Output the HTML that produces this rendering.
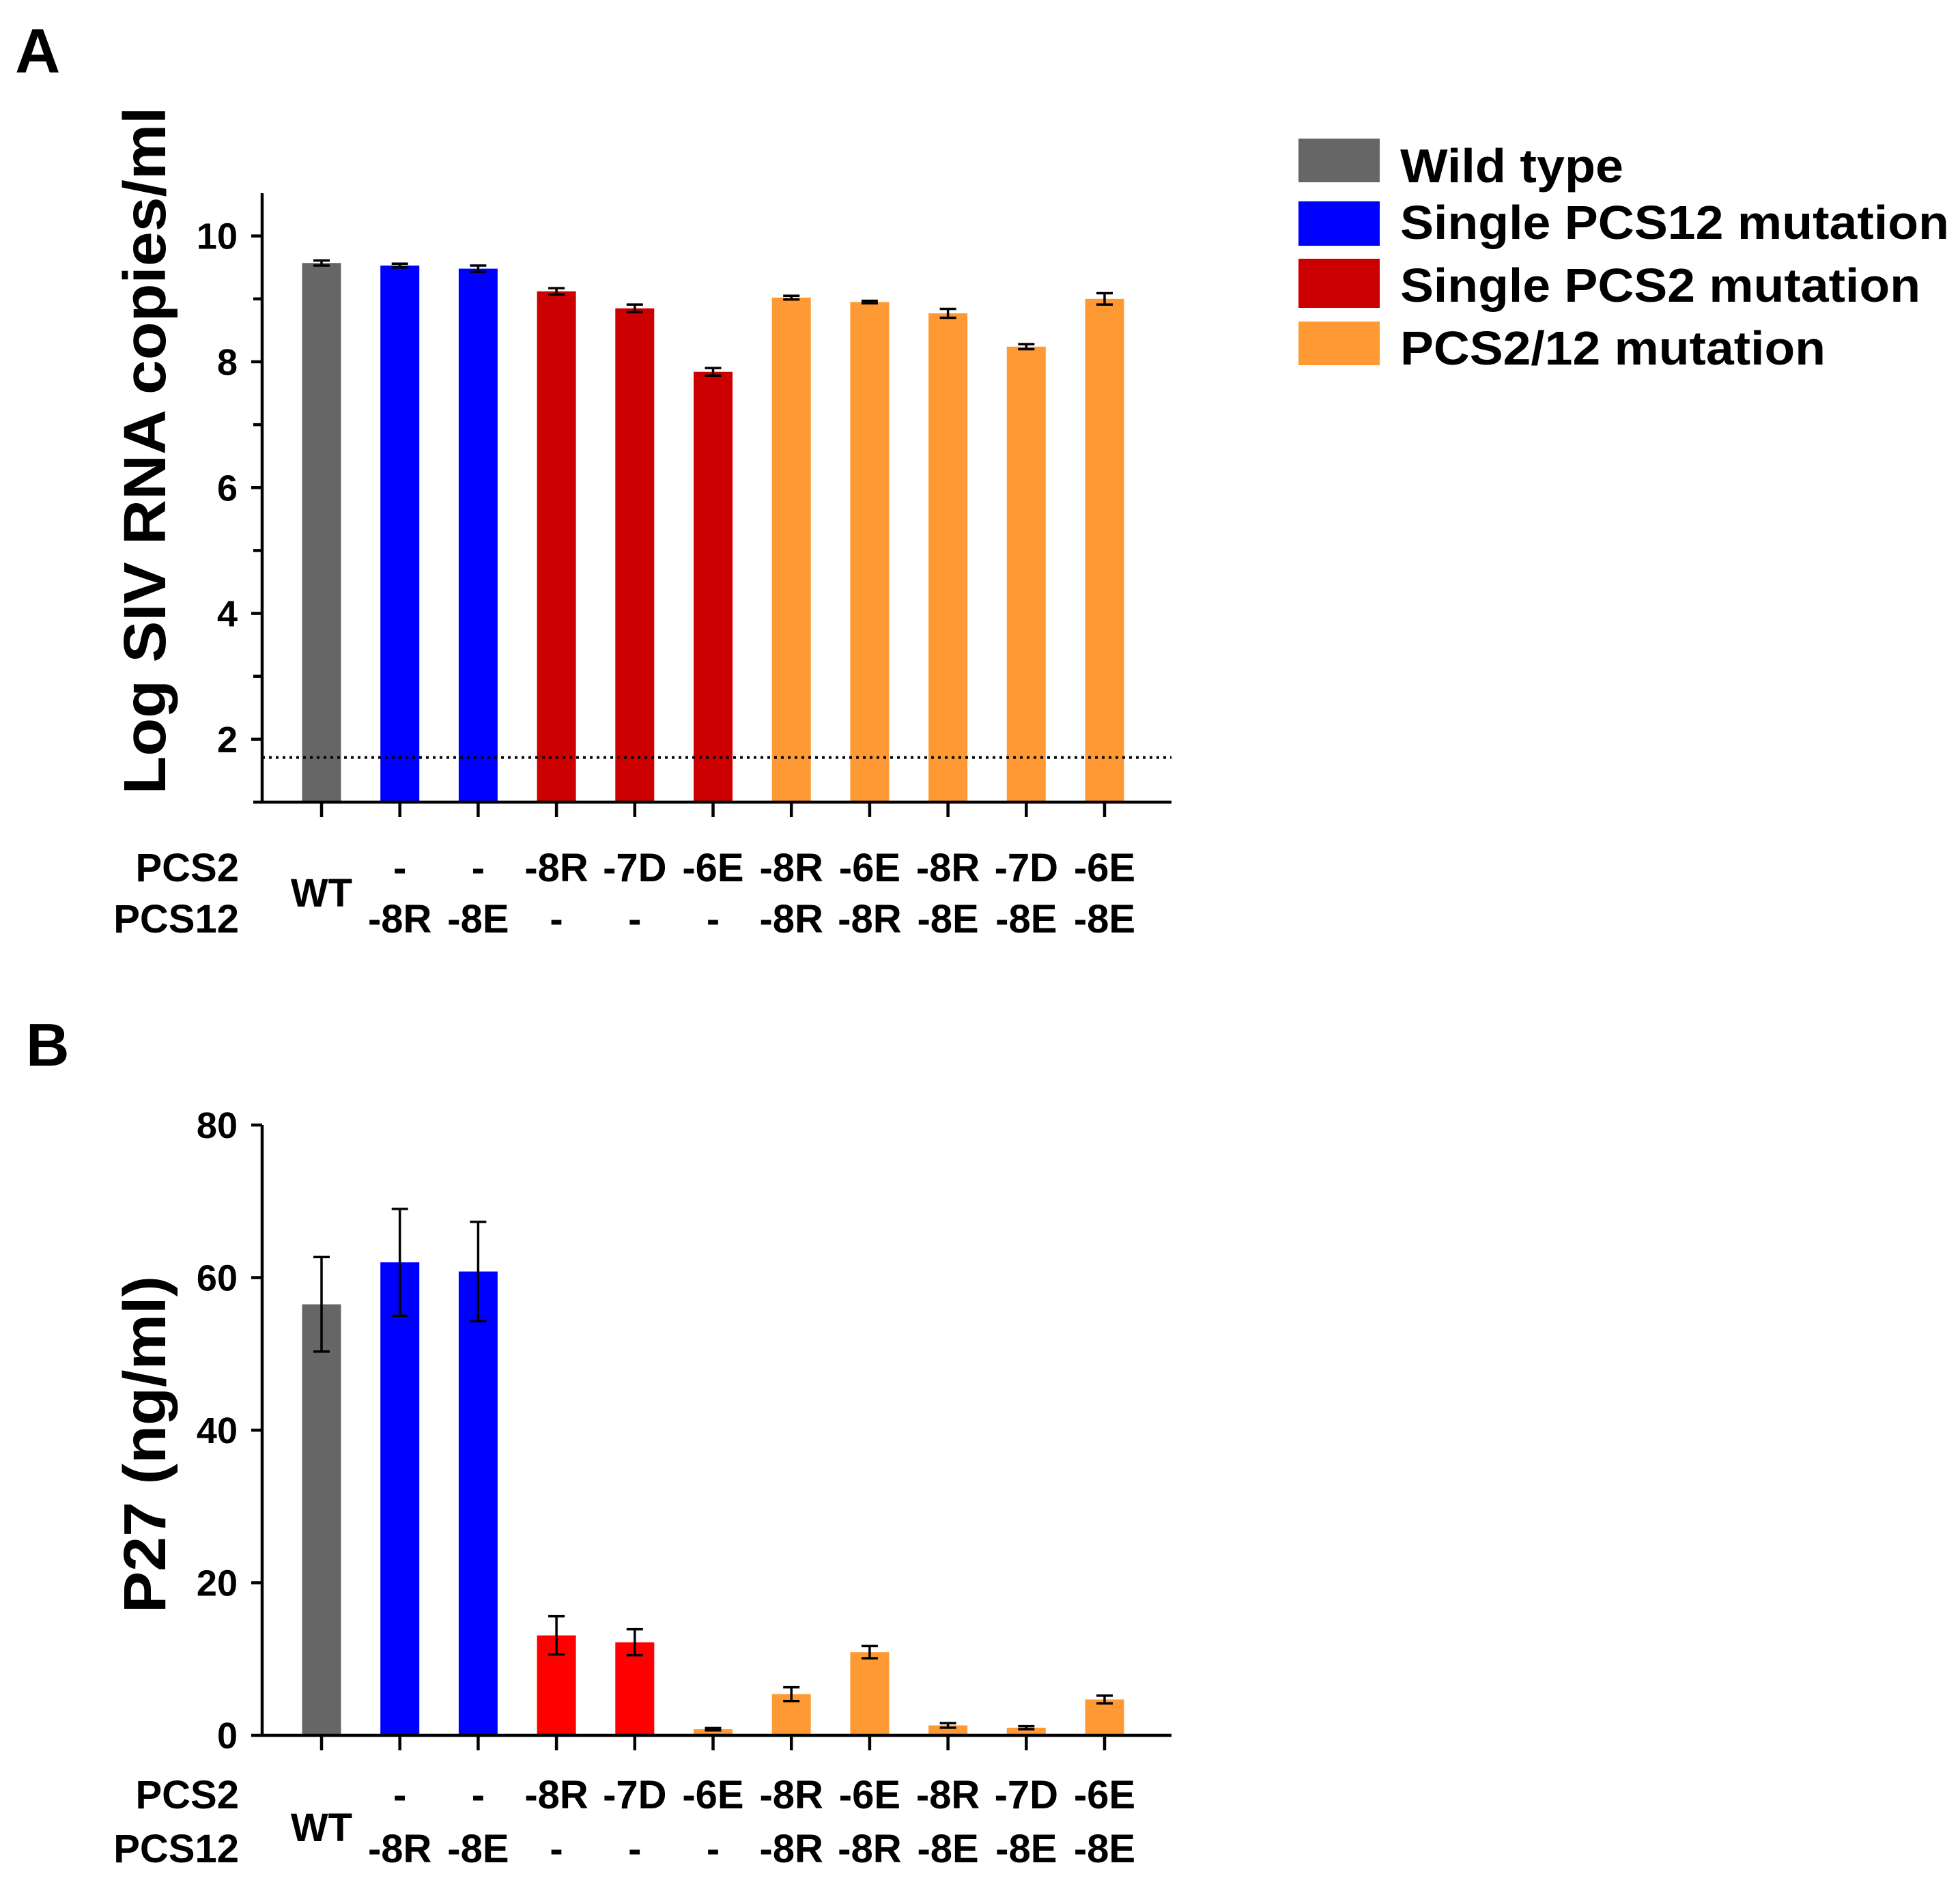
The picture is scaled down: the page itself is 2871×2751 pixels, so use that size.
<!DOCTYPE html>
<html><head><meta charset="utf-8"><style>
html,body{margin:0;padding:0;background:#fff}
svg{display:block}
text{font-family:"Liberation Sans",Arial,sans-serif;font-weight:bold;fill:#000}
</style></head><body>
<svg id="fig" xmlns="http://www.w3.org/2000/svg" width="2871" height="2751" viewBox="0 0 2871 2751">
<text x="22" y="106" font-size="92">A</text>
<text x="38" y="1561" font-size="88">B</text>
<g id="legend">
 <rect x="1902" y="203" width="119" height="64" fill="#666666"/>
 <text x="2051" y="267" font-size="70" textLength="327" lengthAdjust="spacingAndGlyphs">Wild type</text>
 <rect x="1902" y="295" width="119" height="65" fill="#0000ff"/>
 <text x="2051" y="350" font-size="70" textLength="804" lengthAdjust="spacingAndGlyphs">Single PCS12 mutation</text>
 <rect x="1902" y="379" width="119" height="72" fill="#cc0000"/>
 <text x="2051" y="442" font-size="70" textLength="762" lengthAdjust="spacingAndGlyphs">Single PCS2 mutation</text>
 <rect x="1902" y="471" width="119" height="64" fill="#ff9933"/>
 <text x="2051" y="534" font-size="70" textLength="623" lengthAdjust="spacingAndGlyphs">PCS2/12 mutation</text>
</g>
<g id="chartA"></g>
<g id="chartB"></g>
</svg>
<script>
const pcs2Labels = ['', '-', '-', '-8R', '-7D', '-6E', '-8R', '-6E', '-8R', '-7D', '-6E'];
const pcs12Labels = ['', '-8R', '-8E', '-', '-', '-', '-8R', '-8R', '-8E', '-8E', '-8E'];
const groupsA = ['wt', 'pcs12', 'pcs12', 'pcs2', 'pcs2', 'pcs2', 'both', 'both', 'both', 'both', 'both'];
const groupsB = ['wt', 'pcs12', 'pcs12', 'pcs2', 'pcs2', 'both', 'both', 'both', 'both', 'both', 'both'];
const valuesA = [9.57, 9.53, 9.48, 9.12, 8.85, 7.84, 9.02, 8.95, 8.77, 8.24, 9.0];
const errorsA = [0.04, 0.03, 0.05, 0.05, 0.06, 0.06, 0.03, 0.02, 0.07, 0.04, 0.09];
const ticksA = [2, 4, 6, 8, 10];
const limitA = 1.71;
const valuesB = [56.5, 62, 60.8, 13.1, 12.2, 0.8, 5.4, 10.9, 1.3, 1.0, 4.7];
const errorsB = [6.2, 7.0, 6.5, 2.5, 1.7, 0.15, 0.9, 0.8, 0.3, 0.2, 0.5];
const ticksB = [0, 20, 40, 60, 80];

const NS = 'http://www.w3.org/2000/svg';
function mk(parent, tag, attrs, txt) {
  const e = document.createElementNS(NS, tag);
  for (const k in attrs) e.setAttribute(k, attrs[k]);
  if (txt !== undefined) e.textContent = txt;
  parent.appendChild(e);
  return e;
}
const X0 = 384, XR = 1716, X_FIRST = 471, X_STEP = 114.7, BW = 57;
const xPos = i => X_FIRST + i * X_STEP;

function drawChart(g, cfg) {
  const y = v => cfg.yBot - (v - cfg.vmin) * (cfg.yBot - cfg.yTop) / (cfg.vmax - cfg.vmin);
  const colors = cfg.colors;
  cfg.values.forEach((v, i) => {
    const r = mk(g, 'rect', {x: xPos(i) - BW / 2, y: y(v), width: BW, height: cfg.yBot - y(v), fill: colors[cfg.groups[i]]});
    
    
    const e = cfg.errors[i];
    const eg = mk(g, 'g', {stroke: '#000', 'stroke-width': 3.5});
    
    
    const lo = v - e;
    mk(eg, 'line', {x1: xPos(i), x2: xPos(i), y1: y(v + e), y2: y(lo)});
    mk(eg, 'line', {x1: xPos(i) - 12, x2: xPos(i) + 12, y1: y(v + e), y2: y(v + e)});
    mk(eg, 'line', {x1: xPos(i) - 12, x2: xPos(i) + 12, y1: y(lo), y2: y(lo)});
  });
  if (cfg.limit !== undefined) {
    const dl = mk(g, 'line', {x1: X0, x2: XR, y1: y(cfg.limit), y2: y(cfg.limit), stroke: '#000', 'stroke-width': 4, 'stroke-dasharray': '4 6'});
    
    
  }
  const ax = mk(g, 'g', {stroke: '#000', 'stroke-width': 4.5});
  
  
  mk(ax, 'line', {x1: X0, x2: X0, y1: cfg.yTop, y2: cfg.yBot + 2});
  mk(ax, 'line', {x1: X0 - 2, x2: XR, y1: cfg.yBot, y2: cfg.yBot});
  cfg.values.forEach((v, i) => mk(ax, 'line', {x1: xPos(i), x2: xPos(i), y1: cfg.yBot, y2: cfg.yBot + 22}));
  cfg.minor.forEach(t => mk(ax, 'line', {x1: X0 - 13, x2: X0, y1: y(t), y2: y(t)}));
  cfg.ticks.forEach(t => {
    mk(ax, 'line', {x1: X0 - 16, x2: X0, y1: y(t), y2: y(t)});
    const tl = mk(g, 'text', {x: 348, y: y(t) + 19, 'font-size': 54, 'text-anchor': 'end'}, String(t));
    
    
  });
  const tt = mk(g, 'text', {x: 0, y: 0, 'font-size': 87, 'text-anchor': 'middle', textLength: cfg.titleLen, lengthAdjust: 'spacingAndGlyphs', transform: 'translate(242,' + cfg.titleY + ') rotate(-90)'}, cfg.title);
  
  
  const r1 = mk(g, 'text', {x: 350, y: cfg.row1, 'font-size': 58, 'text-anchor': 'end'}, 'PCS2');
  
  
  const r2 = mk(g, 'text', {x: 350, y: cfg.row2, 'font-size': 58, 'text-anchor': 'end'}, 'PCS12');
  
  
  const wt = mk(g, 'text', {x: xPos(0), y: cfg.wtY, 'font-size': 58, 'text-anchor': 'middle'}, 'WT');
  
  
  for (let i = 1; i < pcs2Labels.length; i++) {
    const a = mk(g, 'text', {x: xPos(i), y: cfg.row1, 'font-size': 58, 'text-anchor': 'middle'}, pcs2Labels[i]);
    
    
    const b = mk(g, 'text', {x: xPos(i), y: cfg.row2, 'font-size': 58, 'text-anchor': 'middle'}, pcs12Labels[i]);
    
    
  }
}
drawChart(document.getElementById('chartA'), {
  values: valuesA, errors: errorsA, ticks: ticksA, minor: [1, 3, 5, 7, 9], groups: groupsA,
  vmin: 1, vmax: 10.68, yTop: 283, yBot: 1175, limit: limitA,
  colors: {wt: '#666666', pcs12: '#0000ff', pcs2: '#cc0000', both: '#ff9933'},
  title: 'Log SIV RNA copies/ml', titleLen: 1007, titleY: 660,
  row1: 1291, row2: 1366, wtY: 1328
});
drawChart(document.getElementById('chartB'), {
  values: valuesB, errors: errorsB, ticks: ticksB, minor: [], groups: groupsB,
  vmin: 0, vmax: 80, yTop: 1648, yBot: 2542,
  colors: {wt: '#666666', pcs12: '#0000ff', pcs2: '#ff0000', both: '#ff9933'},
  title: 'P27 (ng/ml)', titleLen: 494, titleY: 2116,
  row1: 2649, row2: 2728, wtY: 2697
});
</script>
</body></html>
